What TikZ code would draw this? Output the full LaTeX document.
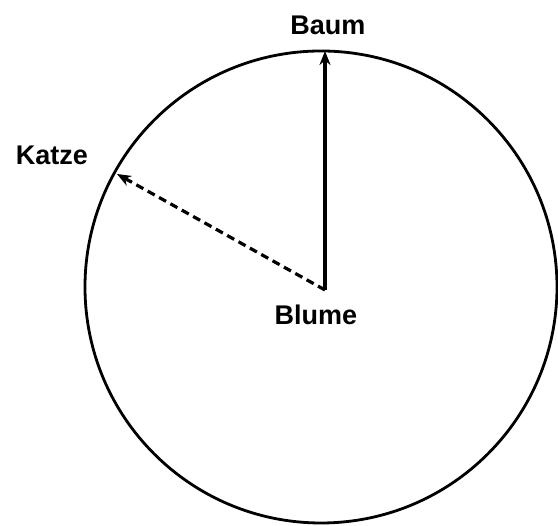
\documentclass[tikz,border=0pt]{standalone}
\usepackage{fontspec}
\setmainfont{Liberation Sans}
\usetikzlibrary{arrows.meta}
\begin{document}
\begin{tikzpicture}[x=1pt,y=1pt,
  lbl/.style={font=\bfseries\fontsize{27}{30}\selectfont, anchor=base, inner sep=0pt},
  vec/.style={line width=3.2pt, -{Stealth[length=14pt,width=11pt]}},
  ring/.style={line width=2.8pt}]
\useasboundingbox (0,0) rectangle (558,526);
\fill[white] (0,0) rectangle (558,526);
\draw[ring] (321,239) circle (236);
\coordinate (blume) at (325,236);
\coordinate (baumtip) at (325,475);
\coordinate (katzetip) at (117,352);
\node[lbl] (baum) at (328,491) {Baum};
\node[lbl] (katze) at (52,361) {Katze};
\node[lbl] (blumelbl) at (316,201) {Blume};
\draw[vec] (blume) -- (baumtip);
\draw[vec, dash pattern=on 8pt off 5pt] (blume) -- (katzetip);
\end{tikzpicture}
\end{document}
